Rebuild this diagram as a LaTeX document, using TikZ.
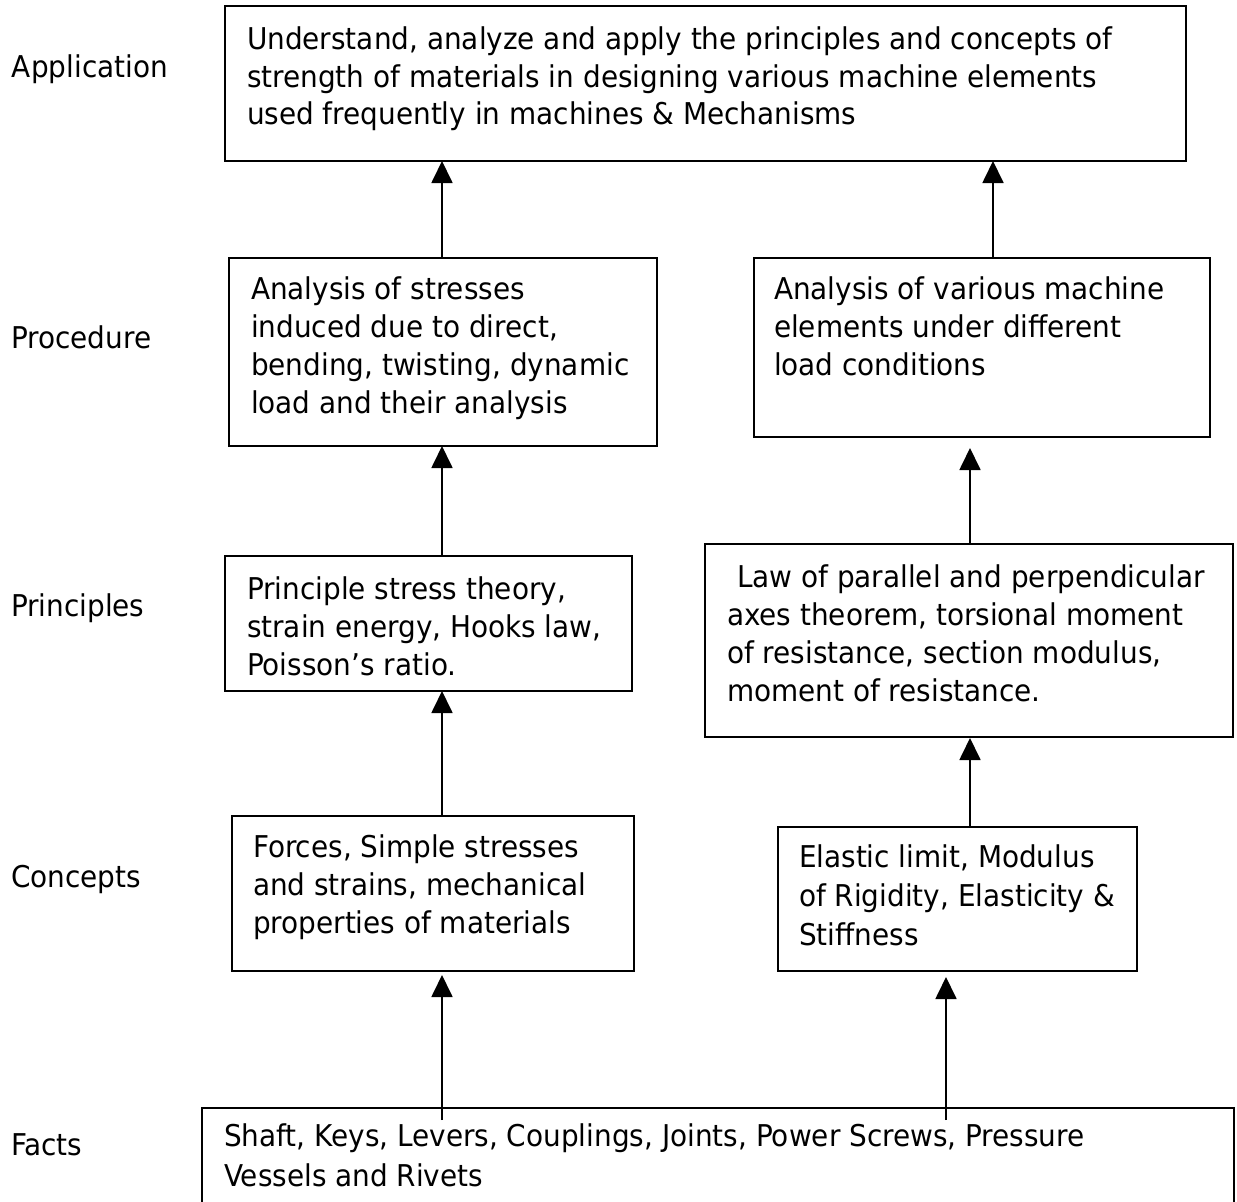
\documentclass[tikz,border=0pt]{standalone}
\usepackage{fontspec}
\setmainfont{DejaVu Sans}[FakeStretch=0.93]
\usetikzlibrary{arrows.meta}
\begin{document}
\begin{tikzpicture}[x=1pt,y=-1pt,
  framebox/.style={draw, line width=1.8pt, inner sep=0pt, outer sep=0pt},
  txt/.style={anchor=base west, inner sep=0pt, outer sep=0pt, font=\fontsize{30}{38}\selectfont},
  lbl/.style={anchor=base west, inner sep=0pt, outer sep=0pt, font=\fontsize{30}{38}\selectfont},
  arr/.style={line width=1.8pt, -{Triangle[width=21pt,length=22pt]}}]
\useasboundingbox (0,0) rectangle (1237,1202);
\clip (0,0) rectangle (1237,1202);
\fill[white] (0,0) rectangle (1237,1202);

% labels
\node[lbl] (lapp) at (12,77) {Application};
\node[lbl] (lproc) at (11,348) {Procedure};
\node[lbl] (lprinc) at (11,616) {Principles};
\node[lbl] (lconc) at (11,887) {Concepts};
\node[lbl] (lfacts) at (11,1155) {Facts};

% boxes
\node[framebox, minimum width=961pt, minimum height=155pt] (app) at (705.5,83.5) {};
\node[framebox, minimum width=428pt, minimum height=188pt] (procL) at (443,352) {};
\node[framebox, minimum width=456pt, minimum height=179pt] (procR) at (982,347.5) {};
\node[framebox, minimum width=407pt, minimum height=135pt] (princL) at (428.5,623.5) {};
\node[framebox, minimum width=528pt, minimum height=193pt] (princR) at (969,640.5) {};
\node[framebox, minimum width=402pt, minimum height=155pt] (concL) at (433,893.5) {};
\node[framebox, minimum width=359pt, minimum height=144pt] (concR) at (957.5,899) {};
\node[framebox, minimum width=1032pt, minimum height=142pt] (facts) at (718,1179) {};

% texts
\node[txt] (tapp) at (247,49.5) {\parbox[t]{1000pt}{\baselineskip=37.5pt
Understand, analyze and apply the principles and concepts of\\
strength of materials in designing various machine elements\\
used frequently in machines \& Mechanisms}};
\node[txt] (tprocL) at (251,299) {\parbox[t]{1000pt}{\baselineskip=38.3pt
Analysis of stresses\\
induced due to direct,\\
bending, twisting, dynamic\\
load and their analysis}};
\node[txt] (tprocR) at (774,299) {\parbox[t]{1000pt}{\baselineskip=38.3pt
Analysis of various machine\\
elements under different\\
load conditions}};
\node[txt] (tprincL) at (247,599) {\parbox[t]{1000pt}{\baselineskip=38pt
Principle stress theory,\\
strain energy, Hooks law,\\
Poisson’s ratio.}};
\node[txt] (tprincR) at (727,587) {\parbox[t]{1000pt}{\baselineskip=38.3pt
\hspace*{10pt}Law of parallel and perpendicular\\
axes theorem, torsional moment\\
of resistance, section modulus,\\
moment of resistance.}};
\node[txt] (tconcL) at (253,857) {\parbox[t]{1000pt}{\baselineskip=38pt
Forces, Simple stresses\\
and strains, mechanical\\
properties of materials}};
\node[txt] (tconcR) at (799,867) {\parbox[t]{1000pt}{\baselineskip=39pt
Elastic limit, Modulus\\
of Rigidity, Elasticity \&\\
Stiffness}};
\node[txt] (tfacts) at (224,1146) {\parbox[t]{1100pt}{\baselineskip=40pt
Shaft, Keys, Levers, Couplings, Joints, Power Screws, Pressure\\
Vessels and Rivets}};

% connector x positions
\coordinate (xl) at (442,0);
\coordinate (xr1) at (993,0);
\coordinate (xr2) at (970,0);
\coordinate (xr3) at (946,0);

% tips and starts with gaps
\path (procR.south -| xr2) ++(0,11) coordinate (t4);
\path (princR.south -| xr2) ++(0,1) coordinate (t6);
\path (concL.south -| xl) ++(0,4) coordinate (t7);
\path (concR.south -| xr3) ++(0,6) coordinate (t8);
\path (facts.north -| xl) ++(0,12) coordinate (s7);
\path (facts.north -| xr3) ++(0,12) coordinate (s8);

% connectors
\draw[arr] (procL.north -| xl) -- (app.south -| xl);
\draw[arr] (procR.north -| xr1) -- (app.south -| xr1);
\draw[arr] (princL.north -| xl) -- (procL.south -| xl);
\draw[arr] (princR.north -| xr2) -- (t4);
\draw[arr] (concL.north -| xl) -- (princL.south -| xl);
\draw[arr] (concR.north -| xr2) -- (t6);
\draw[arr] (s7) -- (t7);
\draw[arr] (s8) -- (t8);
\end{tikzpicture}
\end{document}
